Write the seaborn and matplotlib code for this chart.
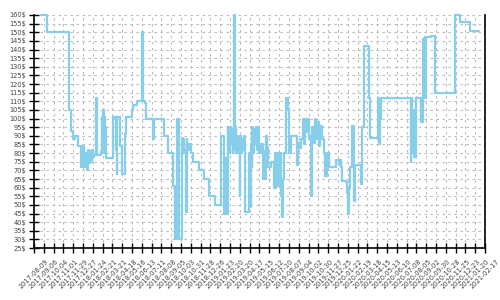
import matplotlib
matplotlib.use("Agg")
import matplotlib.pyplot as plt
import seaborn as sns
import pandas as pd

dates = [
    "2017-08-30", "2017-09-14", "2017-11-17", "2017-11-22", "2017-11-24", "2017-11-27",
    "2017-12-03", "2017-12-12", "2017-12-20", "2017-12-28", "2017-12-31", "2018-01-03",
    "2018-01-06", "2018-01-09", "2018-01-12", "2018-01-15", "2018-01-18", "2018-01-21",
    "2018-01-24", "2018-01-26", "2018-02-02", "2018-02-04", "2018-02-15", "2018-02-18",
    "2018-02-20", "2018-02-22", "2018-02-24", "2018-02-26", "2018-02-28", "2018-03-01",
    "2018-03-03", "2018-03-22", "2018-03-31", "2018-04-02", "2018-04-04", "2018-04-11",
    "2018-04-16", "2018-04-25", "2018-04-28", "2018-05-15", "2018-05-20", "2018-05-29",
    "2018-06-13", "2018-06-16", "2018-06-22", "2018-06-24", "2018-07-15", "2018-07-17",
    "2018-08-15", "2018-08-28", "2018-09-09", "2018-09-17", "2018-09-22", "2018-09-28",
    "2018-10-05", "2018-10-08", "2018-10-10", "2018-10-12", "2018-10-16", "2018-10-19",
    "2018-10-21", "2018-10-25", "2018-11-01", "2018-11-07", "2018-11-24", "2018-12-08",
    "2018-12-23", "2019-01-08", "2019-01-25", "2019-01-26", "2019-02-04", "2019-02-09",
    "2019-02-11", "2019-02-13", "2019-02-15", "2019-02-17", "2019-02-19", "2019-02-21",
    "2019-02-23", "2019-02-25", "2019-02-27", "2019-03-01", "2019-03-04", "2019-03-06",
    "2019-03-08", "2019-03-10", "2019-03-13", "2019-03-16", "2019-03-19", "2019-03-21",
    "2019-03-24", "2019-03-27", "2019-03-30", "2019-04-02", "2019-04-05", "2019-04-16",
    "2019-04-19", "2019-04-21", "2019-04-23", "2019-04-25", "2019-04-27", "2019-04-29",
    "2019-05-02", "2019-05-05", "2019-05-08", "2019-05-11", "2019-05-15", "2019-05-20",
    "2019-05-24", "2019-05-27", "2019-05-31", "2019-06-03", "2019-06-06", "2019-06-09",
    "2019-06-18", "2019-06-25", "2019-06-27", "2019-06-30", "2019-07-02", "2019-07-05",
    "2019-07-08", "2019-07-10", "2019-07-13", "2019-07-16", "2019-07-19", "2019-07-22",
    "2019-07-25", "2019-07-30", "2019-08-05", "2019-08-08", "2019-08-12", "2019-08-30",
    "2019-09-02", "2019-09-05", "2019-09-10", "2019-09-16", "2019-09-19", "2019-09-22",
    "2019-09-25", "2019-09-28", "2019-10-03", "2019-10-06", "2019-10-10", "2019-10-13",
    "2019-10-17", "2019-10-21", "2019-10-24", "2019-10-28", "2019-11-01", "2019-11-05",
    "2019-11-10", "2019-11-15", "2019-11-19", "2019-11-23", "2019-11-29", "2019-12-20",
    "2019-12-27", "2019-12-29", "2020-01-02", "2020-01-06", "2020-01-18", "2020-01-21",
    "2020-01-24", "2020-01-26", "2020-01-28", "2020-02-02", "2020-02-04", "2020-02-09",
    "2020-02-13", "2020-03-01", "2020-03-04", "2020-03-09", "2020-03-22", "2020-03-24",
    "2020-03-27", "2020-04-16", "2020-04-20", "2020-04-23", "2020-04-27", "2020-07-20",
    "2020-07-22", "2020-07-24", "2020-07-26", "2020-07-29", "2020-08-03", "2020-08-18",
    "2020-08-25", "2020-08-27", "2020-08-29", "2020-08-31", "2020-09-02", "2020-09-15",
    "2020-09-28", "2020-11-24", "2020-12-07", "2021-01-06", "2021-02-01",
]
prices = [
    160, 150, 105, 95, 93, 88,
    90, 84, 72, 84, 72, 80,
    70, 82, 74, 81, 75, 82,
    78, 79, 112, 79, 81, 101,
    80, 105, 82, 101, 80, 95,
    77, 101, 82, 68, 101, 84,
    68, 91, 101, 105, 108, 110,
    150, 110, 109, 100, 88, 100,
    90, 80, 61, 30, 100, 30,
    89, 80, 88, 82, 46, 88,
    82, 85, 80, 75, 70, 65,
    55, 50, 80, 90, 45, 77,
    45, 95, 82, 90, 80, 95,
    85, 94, 80, 92, 160, 82,
    95, 80, 90, 80, 55, 90,
    80, 88, 82, 90, 46, 80,
    49, 85, 72, 95, 80, 94,
    85, 95, 82, 95, 80, 85,
    65, 81, 65, 90, 83, 72,
    75, 60, 80, 60, 80, 61,
    80, 61, 80, 55, 43, 65,
    80, 112, 105, 80, 90, 73,
    86, 83, 88, 100, 85, 100,
    92, 100, 88, 90, 55, 95,
    86, 100, 88, 98, 84, 96,
    88, 80, 67, 80, 72, 76,
    73, 76, 72, 64, 63, 57,
    45, 60, 72, 88, 96, 52,
    73, 62, 95, 142, 125, 112,
    89, 112, 85, 100, 112, 75,
    112, 80, 105, 78, 112, 98,
    146, 115, 147, 112, 147, 148,
    115, 160, 156, 151, 151,
]
tick_dates = pd.date_range("2017-08-09", "2021-02-17", freq="28D")
y_ticks = list(range(25, 161, 5))

df = pd.DataFrame({"date": pd.to_datetime(dates), "price": prices})

sns.set_style("white")
fig = plt.figure(figsize=(5, 3), dpi=100)
ax = fig.add_axes([0.068, 0.173, 0.902, 0.777])

sns.lineplot(data=df, x="date", y="price", ax=ax, color="#87ceeb",
             linewidth=1.6, drawstyle="steps-post", clip_on=False, zorder=3)

ax.set_xlim(tick_dates[0], tick_dates[-1])
ax.set_ylim(25, 160)
ax.set_xticks(tick_dates)
ax.set_xticklabels([d.strftime("%Y-%m-%d") for d in tick_dates],
                   rotation=45, ha="center")
ax.set_yticks(y_ticks)
ax.set_yticklabels([f"{v}$" for v in y_ticks])
ax.set_xlabel("")
ax.set_ylabel("")

ax.grid(True, color="#bbbbbb", linestyle=(0, (2.2, 3.2)), linewidth=0.8)
ax.set_axisbelow(True)

for side in ["left", "bottom", "right"]:
    ax.spines[side].set_visible(True)
    ax.spines[side].set_color("black")
    ax.spines[side].set_linewidth(1.2)
ax.spines["top"].set_visible(False)

ax.tick_params(axis="both", direction="inout", length=7, width=1, color="black",
               labelsize=4.8, labelcolor="#444444")
ax.tick_params(axis="y", left=True, pad=2)
ax.tick_params(axis="x", bottom=True, pad=4)

fig.savefig("out.png", dpi=100)
